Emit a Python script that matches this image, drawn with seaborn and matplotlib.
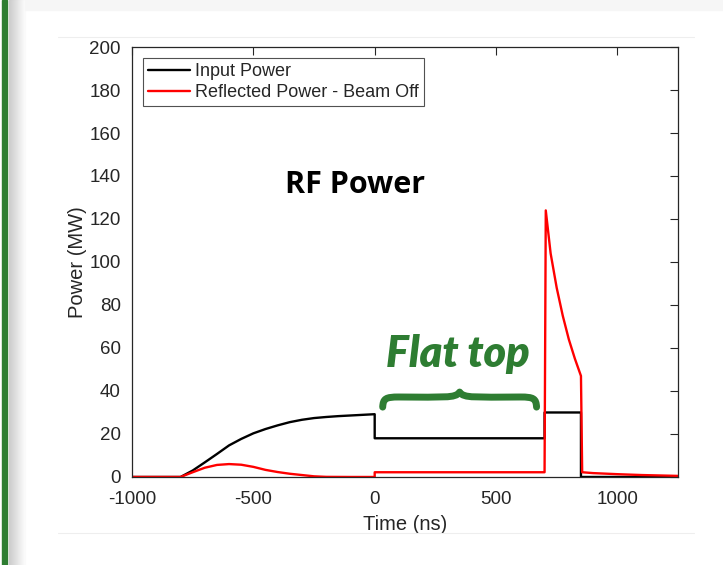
import numpy as np
import pandas as pd
import matplotlib
matplotlib.use("Agg")
import matplotlib.pyplot as plt
import seaborn as sns
from matplotlib.path import Path
from matplotlib.patches import PathPatch, Rectangle

# Input power (MW)
input_time = [-1000, -800, -750, -700, -650, -600, -550, -500, -450, -400, -350,
              -300, -250, -200, -150, -100, -50, 0, 0, 700, 700, 850, 850, 1250]
input_power = [0, 0, 3, 6.8, 10.7, 14.7, 17.7, 20.3, 22.3, 24, 25.5,
               26.6, 27.4, 27.9, 28.3, 28.6, 28.9, 29.2, 18, 18, 30, 30, 0, 0]

# Reflected power (MW), beam off
refl_time = [-1000, -800, -750, -700, -650, -600, -550, -500, -450, -400, -350,
             -300, -250, -200, -100, 0, 0, 700, 705, 725, 750, 775, 800, 825,
             850, 855, 900, 1000, 1100, 1250]
refl_power = [0, 0, 2.2, 4.3, 5.6, 6.0, 5.7, 4.7, 3.3, 2.3, 1.5,
              0.9, 0.3, 0.05, 0, 0, 2.2, 2.2, 124, 104, 88, 75, 64, 55,
              47, 2.2, 1.8, 1.3, 0.9, 0.5]

xticks = [-1000, -500, 0, 500, 1000]
yticks = list(range(0, 201, 20))

df_in = pd.DataFrame({"t": input_time, "p": input_power})
df_re = pd.DataFrame({"t": refl_time, "p": refl_power})

sns.set_style("white")
plt.rcParams["font.family"] = ["Liberation Sans", "DejaVu Sans"]
plt.rcParams["axes.unicode_minus"] = False

fig = plt.figure(figsize=(7.23, 5.65), dpi=100)

# slide decoration: green bar, shadow, faint figure edges
fig.patches.append(Rectangle((0.003, 0), 0.007, 1, transform=fig.transFigure,
                             color="#2e7d32", zorder=0))
for i in range(16):
    fig.patches.append(Rectangle((0.012 + i * 0.0014, 0), 0.0015, 1,
                                 transform=fig.transFigure,
                                 color=str(0.80 + i * 0.012), zorder=0))
fig.patches.append(Rectangle((0.035, 0.982), 1, 0.018, transform=fig.transFigure,
                             color="#f6f6f6", zorder=0))
fig.lines.append(plt.Line2D([0.08, 0.96], [0.934, 0.934], transform=fig.transFigure,
                            color="#eeeeee", lw=0.8))
fig.lines.append(plt.Line2D([0.08, 0.96], [0.057, 0.057], transform=fig.transFigure,
                            color="#eeeeee", lw=0.8))

ax = fig.add_axes([0.1826, 0.1558, 0.7552, 0.761])

sns.lineplot(data=df_in, x="t", y="p", ax=ax, color="black", lw=1.7,
             sort=False, estimator=None, label="Input Power")
sns.lineplot(data=df_re, x="t", y="p", ax=ax, color="#ff0000", lw=1.7,
             sort=False, estimator=None, label="Reflected Power - Beam Off")

ax.set_xlim(-1000, 1250)
ax.set_ylim(0, 200)
ax.set_xticks(xticks)
ax.set_yticks(yticks)
ax.tick_params(direction="in", length=6, width=0.8, top=True, right=True,
               labelsize=13.5, colors="#262626")
ax.tick_params(axis="x", pad=10)
ax.tick_params(axis="y", pad=8)
for s in ax.spines.values():
    s.set_visible(True)
    s.set_color("#262626")
    s.set_linewidth(0.9)
ax.set_xlabel("Time (ns)", fontsize=14.5, color="#262626", labelpad=5)
ax.set_ylabel("Power (MW)", fontsize=14.5, color="#262626", labelpad=2)

leg = ax.legend(loc="upper left", fontsize=13, frameon=True, fancybox=False,
                edgecolor="#262626", handlelength=2.3, handletextpad=0.3,
                borderpad=0.3, labelspacing=0.2, borderaxespad=0.6)
leg.get_frame().set_linewidth(0.8)

ax.text(-82, 136, "RF Power", fontsize=22, fontweight="bold", color="black",
        family=["Open Sans", "DejaVu Sans"], ha="center", va="center")
ax.text(341, 57, "Flat top", fontsize=31, fontweight="heavy", style="italic",
        family=["Lato", "DejaVu Sans"], color="#2e7d32", ha="center", va="center")

# curly brace over the flat top
brace = [(33, 32.5), (35, 36.5), (45, 37.2), (100, 37.2),
         (280, 37.2), (335, 36.5), (350, 39.5),
         (365, 36.5), (420, 37.2), (600, 37.2),
         (655, 37.2), (665, 36.5), (667, 32.5)]
codes = [Path.MOVETO, Path.CURVE4, Path.CURVE4, Path.CURVE4,
         Path.CURVE4, Path.CURVE4, Path.CURVE4,
         Path.CURVE4, Path.CURVE4, Path.CURVE4,
         Path.CURVE4, Path.CURVE4, Path.CURVE4]
ax.add_patch(PathPatch(Path(brace, codes), fill=False, edgecolor="#2e7d32",
                       lw=5, capstyle="round", joinstyle="round", zorder=3))

fig.savefig("out.png", dpi=100)
